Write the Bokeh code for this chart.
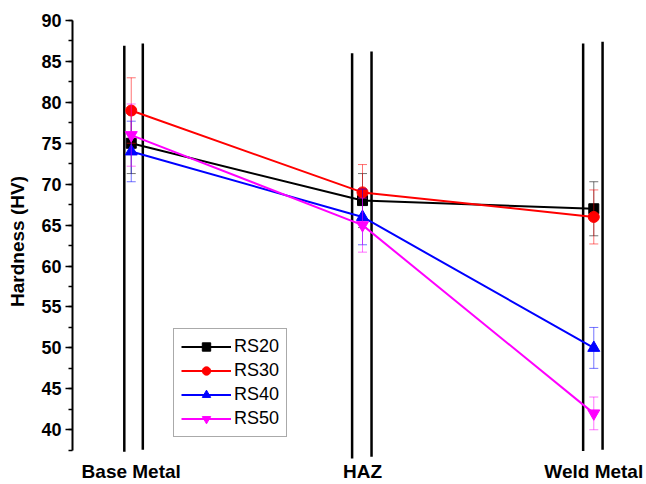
from bokeh.plotting import figure
from bokeh.models import Range1d, FixedTicker, Legend, LegendItem
from bokeh.embed import file_html
from bokeh.resources import INLINE

categories = ["Base Metal", "HAZ", "Weld Metal"]
cat_x = [1, 2, 3]

rs20 = [75, 68, 67]
rs20_err = [3.7, 3.3, 3.3]
rs30 = [79, 69, 66]
rs30_err = [4.0, 3.4, 3.3]
rs40 = [74, 66, 50]
rs40_err = [3.7, 3.4, 2.5]
rs50 = [76, 65, 42]
rs50_err = [3.8, 3.3, 2.0]

series_names = ["RS20", "RS30", "RS40", "RS50"]
y_ticks = [40, 45, 50, 55, 60, 65, 70, 75, 80, 85, 90]

# vertical bracket lines at each category (left and right of the category)
bracket_offsets_left = [-0.030, -0.045, -0.046]
bracket_offsets_right = [0.050, 0.039, 0.038]
bracket_top_left = [86.9, 86.0, 87.2]
bracket_top_right = [87.2, 86.2, 87.4]
bracket_bot_left = [37.3, 36.5, 37.4]
bracket_bot_right = [37.55, 36.7, 37.55]

FONT = "Liberation Sans"

p = figure(frame_width=568, frame_height=442,
           x_range=Range1d(0.746, 3.202), y_range=Range1d(36.0, 90.0),
           output_backend="svg", toolbar_location=None,
           min_border_left=72, min_border_top=20, min_border_right=6,
           min_border_bottom=22)
p.outline_line_color = None
p.xgrid.visible = False
p.ygrid.visible = False
p.background_fill_color = "white"
p.border_fill_color = "white"

# bracket lines
for offs, tops, bots in [(bracket_offsets_left, bracket_top_left, bracket_bot_left),
                         (bracket_offsets_right, bracket_top_right, bracket_bot_right)]:
    xs = [c + o for c, o in zip(cat_x, offs)]
    p.segment(x0=xs, y0=bots, x1=xs, y1=tops, line_color="black", line_width=2.5)

styles = [
    (rs20, rs20_err, "black", "square", 10),
    (rs30, rs30_err, "red", "circle", 11),
    (rs40, rs40_err, "blue", "triangle", 12),
    (rs50, rs50_err, "magenta", "inverted_triangle", 12),
]

items = []
for name, (vals, errs, col, mk, sz) in zip(series_names, styles):
    lo = [v - e for v, e in zip(vals, errs)]
    hi = [v + e for v, e in zip(vals, errs)]
    p.segment(x0=cat_x, y0=lo, x1=cat_x, y1=hi, line_color=col, line_alpha=0.55, line_width=1)
    p.scatter(x=cat_x, y=lo, marker="dash", size=9, line_color=col, line_alpha=0.55, line_width=1)
    p.scatter(x=cat_x, y=hi, marker="dash", size=9, line_color=col, line_alpha=0.55, line_width=1)
    ln = p.line(x=cat_x, y=vals, line_color=col, line_width=2)
    sc = p.scatter(x=cat_x, y=vals, marker=mk, size=sz, fill_color=col, line_color=col)
    items.append(LegendItem(label=name, renderers=[ln, sc]))

legend = Legend(items=items, location=(101, 25))
legend.label_text_font = FONT
legend.label_text_color = "black"
legend.label_text_font_size = "18px"
legend.label_height = 21
legend.glyph_height = 21
legend.glyph_width = 50
legend.spacing = 3
legend.padding = 7
legend.margin = 0
legend.label_standoff = 3
legend.border_line_color = "#555555"
legend.border_line_width = 1
legend.background_fill_alpha = 1
p.add_layout(legend, "center")

# y axis
ya = p.yaxis[0]
ya.ticker = FixedTicker(ticks=y_ticks, minor_ticks=[37.5 + 2.5 * i for i in range(22)])
ya.bounds = (37.5, 90)
ya.axis_label = "Hardness (HV)"
ya.axis_label_text_font = FONT
ya.axis_label_text_font_style = "bold"
ya.axis_label_text_font_size = "19px"
ya.axis_label_text_color = "black"
ya.axis_label_standoff = 10
ya.major_label_text_font = FONT
ya.major_label_text_font_style = "bold"
ya.major_label_text_font_size = "18px"
ya.major_label_text_color = "black"
ya.major_label_standoff = 4
ya.axis_line_color = "black"
ya.axis_line_width = 2
ya.major_tick_line_color = "black"
ya.minor_tick_line_color = "black"
ya.major_tick_line_width = 1.5
ya.minor_tick_line_width = 1.5
ya.major_tick_out = 7
ya.major_tick_in = 0
ya.minor_tick_out = 4
ya.minor_tick_in = 0

# x axis: labels only
xa = p.xaxis[0]
xa.ticker = FixedTicker(ticks=cat_x)
xa.major_label_overrides = {c: n for c, n in zip(cat_x, categories)}
xa.axis_line_color = None
xa.major_tick_line_color = None
xa.minor_tick_line_color = None
xa.major_tick_out = 0
xa.major_label_standoff = -2
xa.major_label_text_font = FONT
xa.major_label_text_font_style = "bold"
xa.major_label_text_font_size = "19px"
xa.major_label_text_color = "black"

open("out.html", "w").write(file_html(p, INLINE))
